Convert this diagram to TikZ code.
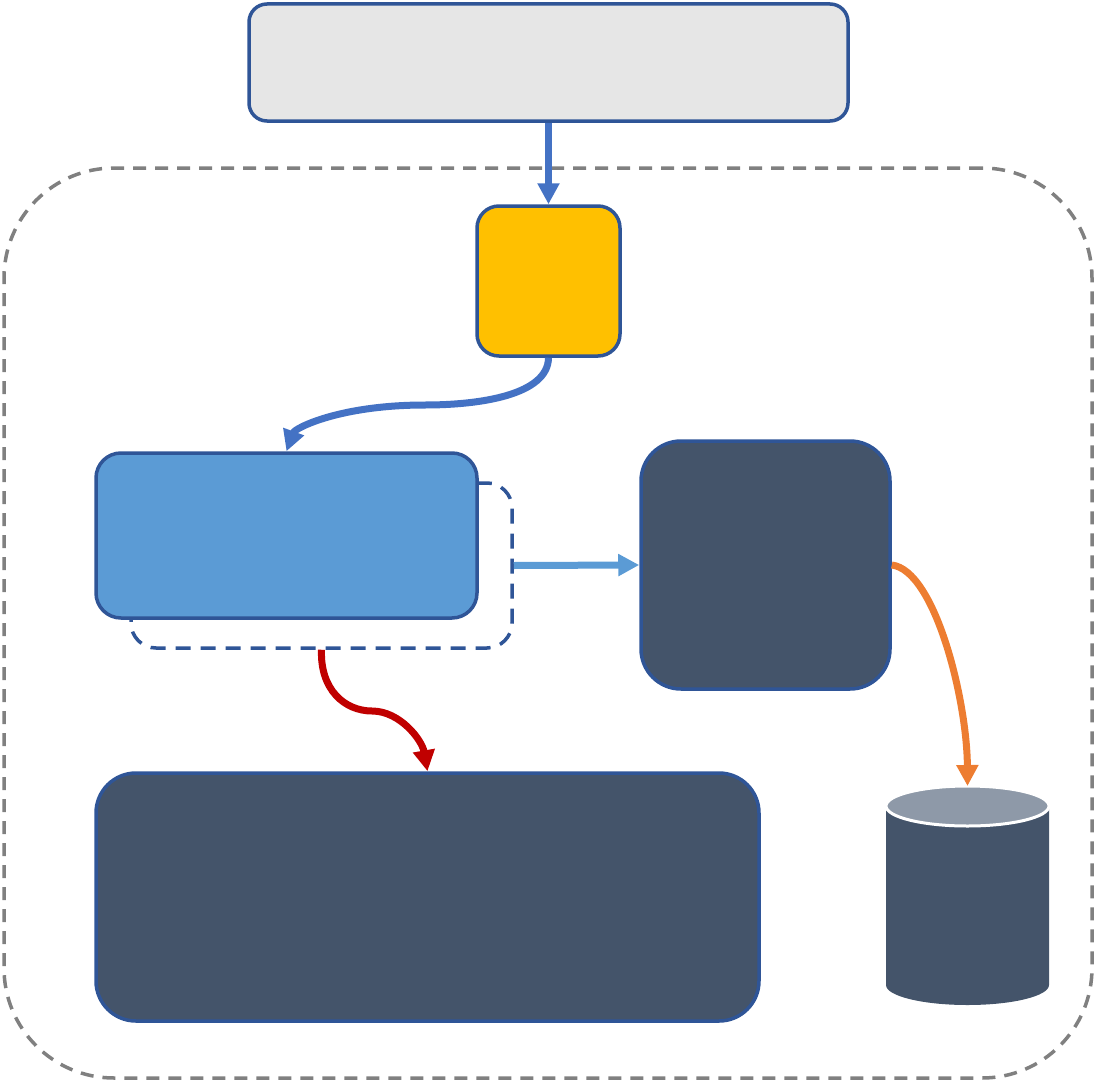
\documentclass[tikz,border=0pt]{standalone}
\usetikzlibrary{arrows.meta}
\definecolor{edgeblue}{HTML}{2F5597}
\definecolor{boxgray}{HTML}{E6E6E6}
\definecolor{boxyellow}{HTML}{FFC000}
\definecolor{boxblue}{HTML}{5B9BD5}
\definecolor{boxdark}{HTML}{44546A}
\definecolor{lineblue}{HTML}{4472C4}
\definecolor{linered}{HTML}{C00000}
\definecolor{lineorange}{HTML}{ED7D31}
\definecolor{capgray}{HTML}{8E99A8}
\definecolor{framegray}{HTML}{808080}
\begin{document}
\begin{tikzpicture}[x=1pt,y=-1pt,
  box/.style={draw=edgeblue,line width=3.5pt,inner sep=0pt},
  conn/.style={line width=7pt,-{Triangle[length=21pt,width=21pt]}}]
\useasboundingbox (0,0) rectangle (1095,1081);
% outer dashed container
\node[draw=framegray,line width=3.5pt,dash pattern=on 13pt off 9pt,rounded corners=110pt,
  minimum width=1088pt,minimum height=910pt,inner sep=0pt] (frame) at (548,623) {};
% top box
\node[box,fill=boxgray,rounded corners=18pt,minimum width=599pt,minimum height=117pt] (top) at (548.5,62.5) {};
% yellow box
\node[box,fill=boxyellow,rounded corners=22pt,minimum width=143pt,minimum height=150pt] (yel) at (548.5,281) {};
% dashed group behind blue box
\node[draw=edgeblue,line width=3.5pt,dash pattern=on 15pt off 10pt,dash phase=6pt,rounded corners=25pt,
  minimum width=381pt,minimum height=165pt,inner sep=0pt] (grp) at (321.5,565.5) {};
% blue box
\node[box,fill=boxblue,rounded corners=25pt,minimum width=381pt,minimum height=165pt] (blu) at (286.5,535.5) {};
% dark right box
\node[box,fill=boxdark,rounded corners=40pt,minimum width=249pt,minimum height=248pt] (drk) at (765.5,565) {};
% big bottom box
\node[box,fill=boxdark,rounded corners=40pt,minimum width=663pt,minimum height=248pt] (big) at (427.5,897) {};
% database cylinder
\fill[boxdark] (886,806) -- (886,985) arc[start angle=180,end angle=360,x radius=81.5pt,y radius=20pt] -- (1049,806) -- cycle;
\draw[white,line width=3pt,fill=capgray] (967.5,806) ellipse[x radius=81.5pt,y radius=20pt];
\coordinate (db) at (967.5,786);
% connectors
\draw[conn,lineblue] (top.south) -- (yel.north);
\draw[conn,lineblue] (yel.south) .. controls (548,395) and (480,405) .. (425,405)
  .. controls (340,405) and (295,428) .. (blu.north);
\draw[conn,boxblue] (grp.east) -- (drk.west);
\draw[conn,linered] (grp.south) .. controls (320,690) and (345,711) .. (372,711)
  .. controls (400,711) and (422,740) .. (big.north);
\draw[conn,lineorange] (drk.east) .. controls (935,570) and (967,700) .. (db);
\end{tikzpicture}
\end{document}
